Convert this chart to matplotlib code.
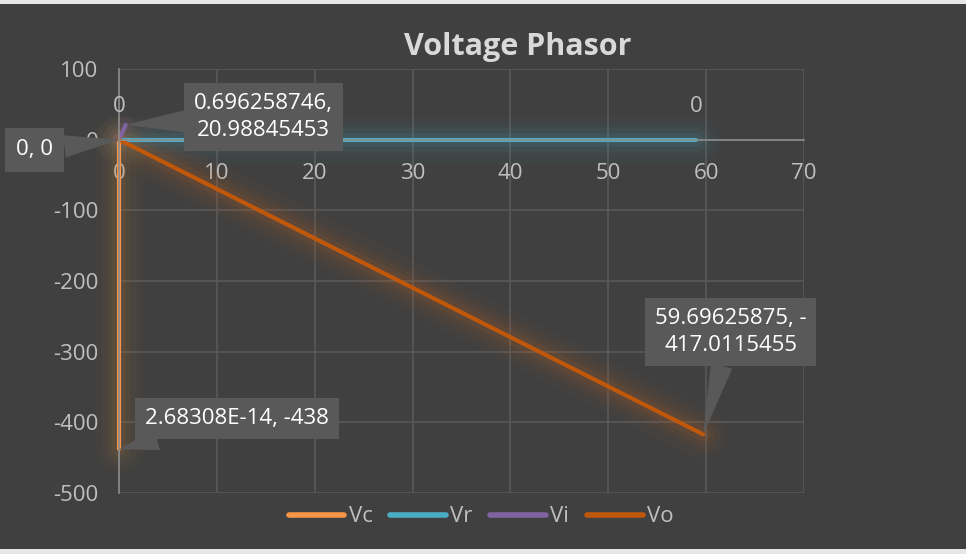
import matplotlib.pyplot as plt
from matplotlib.patches import Rectangle

# phasor endpoints (each series starts at the origin)
series = ['Vc', 'Vr', 'Vi', 'Vo']
x_end = [2.68308e-14, 59.0, 0.696258746, 59.69625875]
y_end = [-438.0, 0.0, 20.98845453, -417.0115455]
colores = ['#F79646', '#4BACC6', '#8064A2', '#C0580C']
glow = ['#C87A34', '#4BACC6', '#8064A2', '#D86A1C']

x_ticks = [0, 10, 20, 30, 40, 50, 60, 70]
y_ticks = [100, 0, -100, -200, -300, -400, -500]

fundo = '#404040'
cinza = '#BFBFBF'
plt.rcParams['font.family'] = ['Open Sans', 'DejaVu Sans']
plt.rcParams['axes.unicode_minus'] = False
fs = 16

fig = plt.figure(figsize=(9.66, 5.54), dpi=100)
fig.patch.set_facecolor(fundo)
ax = fig.add_axes([0.1232, 0.1101, 0.7091, 0.7654])
ax.set_facecolor(fundo)

# faixas claras no topo e embaixo
fig.patches.append(Rectangle((0, 1 - 4 / 554), 1, 4 / 554, transform=fig.transFigure,
                             facecolor='#E6E6E6', edgecolor='none'))
fig.patches.append(Rectangle((0, 0), 1, 5 / 554, transform=fig.transFigure,
                             facecolor='#E6E6E6', edgecolor='none'))

ax.set_xlim(0, 70)
ax.set_ylim(-500, 100)
ax.set_xticks(x_ticks)
ax.set_yticks(y_ticks)
ax.grid(True, color='#595959', linewidth=1.2)
ax.set_axisbelow(True)

for s in ['top', 'right']:
    ax.spines[s].set_visible(False)
ax.spines['bottom'].set_position(('data', 0))
ax.spines['bottom'].set_color('#8C8C8C')
ax.spines['left'].set_color('#8C8C8C')
ax.spines['bottom'].set_linewidth(1.2)
ax.spines['left'].set_linewidth(1.2)
ax.tick_params(length=0, colors=cinza, labelsize=fs)
ax.tick_params(axis='x', pad=17)
ax.tick_params(axis='y', pad=15)

# brilho suave em volta das linhas
for xe, ye, g in zip(x_end, y_end, glow):
    camadas = [(34, 0.035), (25, 0.045), (17, 0.06), (10, 0.09)]
    if ye > 0:  # Vi: brilho mais fraco
        camadas = [(14, 0.05), (9, 0.08)]
    for lw, a in camadas:
        ax.plot([0, xe], [0, ye], color=g, lw=lw, alpha=a, solid_capstyle='round',
                label='_nolegend_', clip_on=False)

for nome, xe, ye, c in zip(series, x_end, y_end, colores):
    ax.plot([0, xe], [0, ye], color=c, lw=3, solid_capstyle='round', label=nome,
            clip_on=False)

# rótulos "0" da série Vr
ax.annotate('0', (0, 0), xytext=(0, 16), textcoords='offset points', ha='center',
            va='bottom', color=cinza, fontsize=fs)
ax.annotate('0', (x_end[1], 0), xytext=(0, 16), textcoords='offset points', ha='center',
            va='bottom', color=cinza, fontsize=fs)

caixa = dict(boxstyle='square,pad=0.45', fc='#595959', ec='none')
seta = dict(arrowstyle='wedge,tail_width=1.0,shrink_factor=0.5', fc='#595959', ec='none',
            shrinkA=0, shrinkB=0)

ax.annotate('0, 0', (0, 0), xytext=(-8.6, -14.6), ha='center', va='center',
            color='white', fontsize=fs, bbox=dict(caixa, boxstyle='square,pad=0.5'),
            arrowprops=seta, annotation_clip=False)
ax.annotate('%.9f,\n%.8f' % (x_end[2], y_end[2]), (x_end[2], y_end[2]),
            xytext=(14.8, 32.1), ha='center', va='center', color='white', fontsize=fs,
            bbox=caixa, arrowprops=seta, linespacing=1.35)
ax.annotate('2.68308E-14, -438', (x_end[0], y_end[0]), xytext=(12.1, -395.2),
            ha='center', va='center', color='white', fontsize=fs, bbox=caixa,
            arrowprops=seta)
ax.annotate('59.69625875, -\n417.0115455', (x_end[3], y_end[3]), xytext=(62.5, -272),
            ha='center', va='center', color='white', fontsize=fs, bbox=caixa,
            arrowprops=seta, linespacing=1.35)

fig.text(518 / 966, 1 - 47 / 554, 'Voltage Phasor', ha='center', va='center',
         color='#D9D9D9', fontsize=22, fontweight='bold')

leg = fig.legend(loc='center', bbox_to_anchor=(0.498, 0.0668), ncol=4, frameon=False,
                 fontsize=fs, handlelength=2.5, columnspacing=0.8, handletextpad=0.2)
for t in leg.get_texts():
    t.set_color(cinza)
for h in leg.get_lines():
    h.set_linewidth(4)

fig.savefig('out.png', dpi=100, facecolor=fundo)
